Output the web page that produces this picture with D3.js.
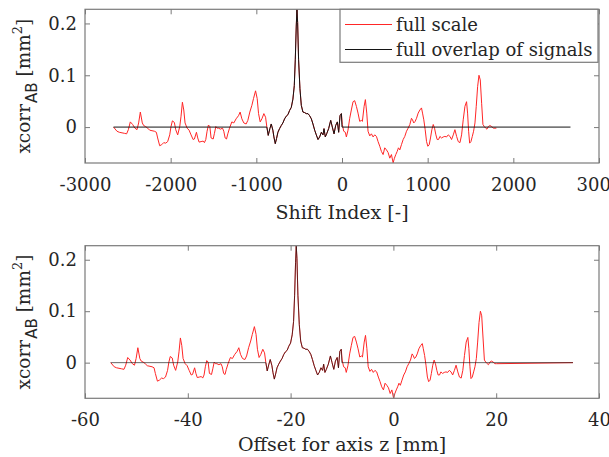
<!DOCTYPE html>
<html>
<head>
<meta charset="utf-8">
<script src="https://cdn.jsdelivr.net/npm/d3@7"></script>
<style>
  html, body { margin: 0; padding: 0; background: #fff; }
  svg { display: block; }
  text { font-family: "DejaVu Serif", serif; fill: #262626; }
</style>
</head>
<body>
<svg id="chart" width="609" height="457"></svg>
<script>
// Cross-correlation of signals A and B versus shift index (samples)
const shiftIndex = [
  -2667, -2627, -2600, -2541, -2514, -2494, -2471, -2444, -2417, -2393,
  -2374, -2354, -2331, -2315, -2292, -2269, -2245, -2190, -2167, -2152,
  -2128, -2105, -2081, -2058, -2035, -2011, -1996, -1980, -1957, -1941,
  -1918, -1894, -1879, -1863, -1847, -1832, -1808, -1785, -1762, -1738,
  -1723, -1699, -1684, -1668, -1645, -1621, -1606, -1590, -1575, -1559,
  -1543, -1528, -1504, -1489, -1473, -1458, -1442, -1419, -1395, -1380,
  -1364, -1348, -1333, -1313, -1286, -1263, -1236, -1208, -1189, -1169,
  -1146, -1119, -1099, -1076, -1052, -1033, -1009, -990, -974, -955,
  -935, -912, -892, -877, -861, -842, -826, -807, -795, -779,
  -764, -748, -729, -709, -690, -670, -651, -631, -612, -592,
  -573, -557, -545, -534, -526, -518, -507, -491, -475, -456,
  -436, -417, -397, -378, -358, -339, -319, -300, -280, -261,
  -241, -222, -210, -195, -179, -156, -132, -113, -93, -74,
  -54, -39, -23, -7, 4, 20, 39, 51, 70, 90,
  109, 129, 148, 168, 187, 207, 226, 238, 258, 273,
  289, 304, 324, 343, 363, 382, 402, 421, 441, 460,
  480, 499, 519, 538, 558, 577, 597, 612, 628, 644,
  659, 675, 694, 714, 733, 753, 772, 792, 811, 823,
  838, 854, 870, 889, 909, 928, 940, 955, 971, 987,
  1002, 1018, 1033, 1049, 1065, 1080, 1096, 1111, 1127, 1143,
  1162, 1182, 1201, 1221, 1240, 1260, 1279, 1299, 1318, 1338,
  1357, 1377, 1396, 1415, 1435, 1454, 1466, 1478, 1490, 1505,
  1521, 1536, 1552, 1567, 1583, 1599, 1614, 1630, 1645, 1661,
  1677, 1692, 1708, 1727, 1747, 1766, 1786, 1802
];

// xcorr_AB [mm^2], full-scale correlation
const xcorrFull = [
  0, -0.008, -0.010, -0.012, -0.013, -0.005, 0.010, 0.005, -0.002, -0.005,
  0.008, 0.029, 0.008, 0.003, 0.001, -0.002, -0.006, -0.008, -0.010, -0.021,
  -0.036, -0.034, -0.030, -0.031, -0.028, -0.015, 0.001, 0.012, 0.009, -0.005,
  -0.015, 0.001, 0.021, 0.048, 0.033, 0.008, -0.002, -0.006, -0.015, -0.024,
  -0.023, -0.010, -0.021, -0.029, -0.028, -0.027, -0.030, -0.024, -0.008, 0.004,
  0.001, -0.021, -0.023, -0.012, 0.001, -0.002, -0.002, -0.004, -0.002, -0.008,
  -0.021, -0.023, -0.013, -0.002, 0.010, 0.008, 0.016, 0.022, 0.029, 0.016,
  0.008, 0.006, 0.013, 0.029, 0.042, 0.055, 0.070, 0.055, 0.026, 0.010,
  0.016, 0.026, 0.019, 0, -0.016, -0.003, 0.006, -0.006, -0.019, -0.032,
  -0.022, -0.010, -0.003, 0.003, 0.008, 0.016, 0.021, 0.024, 0.032, 0.038,
  0.054, 0.080, 0.131, 0.195, 0.227, 0.202, 0.131, 0.074, 0.042, 0.029,
  0.028, 0.026, 0.026, 0.022, 0.016, 0.006, -0.006, -0.015, -0.024, -0.019,
  -0.010, -0.015, -0.003, -0.019, -0.013, -0.003, 0.013, 0, -0.013, 0.003,
  0.010, -0.010, 0.022, 0.026, 0.005, -0.008, -0.010, -0.019, -0.006, 0.017,
  0.033, 0.049, 0.051, 0.040, 0.027, 0.011, 0.013, 0.011, 0.040, 0.053,
  0.027, -0.008, -0.017, -0.013, -0.019, -0.015, -0.018, -0.028, -0.037, -0.047,
  -0.053, -0.040, -0.044, -0.049, -0.060, -0.053, -0.069, -0.060, -0.053, -0.047,
  -0.040, -0.044, -0.034, -0.024, -0.018, -0.008, -0.002, 0.005, 0.017, 0.014,
  0.008, 0.011, 0.017, 0.027, 0.033, 0.037, 0.027, 0.014, -0.005, -0.028,
  -0.037, -0.034, -0.021, -0.005, 0.005, -0.002, -0.015, -0.024, -0.024, -0.018,
  -0.021, -0.019, -0.018, -0.019, -0.015, -0.018, -0.024, -0.015, -0.005, -0.018,
  -0.028, -0.030, -0.015, 0.014, 0.040, 0.049, 0.027, -0.008, -0.031, -0.028,
  -0.018, -0.008, 0.008, 0.040, 0.078, 0.100, 0.091, 0.046, 0.005, 0.001,
  -0.002, -0.004, 0.001, 0.003, 0.001, -0.002, -0.002, -0.002
];

// Region where both signals fully overlap, and the span of the zero baseline
const overlapShift = [-877, 0];
const zeroSpanShift = [-2667, 2667];

// Conversion of shift index to offset along axis z [mm]
const mmPerIndex = 0.01686;
const mmAtZeroShift = -10.03;

// Axis ticks and labels
const shiftTicks = [-3000, -2000, -1000, 0, 1000, 2000, 3000];
const offsetTicks = [-60, -40, -20, 0, 20, 40];
const yTicks = [0, 0.1, 0.2];
const legendLabels = ["full scale", "full overlap of signals"];
const xLabels = ["Shift Index [-]", "Offset for axis z [mm]"];

const svg = d3.select("#chart");

const fullPts = shiftIndex.map((s, i) => ({ s, v: xcorrFull[i] }));
const overlapPts = [{ s: zeroSpanShift[0], v: 0 }, { s: overlapShift[0], v: 0 }]
  .concat(fullPts.filter(p => p.s > overlapShift[0] && p.s <= overlapShift[1]))
  .concat([{ s: overlapShift[1], v: 0 }, { s: zeroSpanShift[1], v: 0 }]);

const yExtent = d3.extent(xcorrFull);
const RED = "#ff2626";

function panel(opts) {
  const { top, bottom, left, right, xDomain, xTicks, toX, xLabel, labelGap, redTail, zeroColor } = opts;
  const g = svg.append("g");
  const x = d3.scaleLinear().domain(xDomain).range([left, right]);
  const y = d3.scaleLinear().domain([yExtent[0] - 0.0003, yExtent[1] + 0.0003]).range([bottom, top]);

  const clipId = "clip" + Math.round(top);
  svg.append("clipPath").attr("id", clipId)
    .append("rect").attr("x", left).attr("y", top).attr("width", right - left).attr("height", bottom - top);

  const line = d3.line().x(d => x(toX(d.s))).y(d => y(d.v));

  // Full-scale trace, then the full-overlap trace on top of it
  const red = redTail ? fullPts.concat([{ s: zeroSpanShift[1], v: 0 }]) : fullPts;
  g.append("path").datum(red)
    .attr("clip-path", `url(#${clipId})`)
    .attr("fill", "none").attr("stroke", RED).attr("stroke-width", 1)
    .attr("stroke-linejoin", "round").attr("d", line);
  g.append("path").datum(overlapPts)
    .attr("clip-path", `url(#${clipId})`)
    .attr("fill", "none").attr("stroke", zeroColor).attr("stroke-width", 1)
    .attr("stroke-linejoin", "round").attr("d", line);

  // Box
  g.append("rect").attr("x", left).attr("y", top)
    .attr("width", right - left).attr("height", bottom - top)
    .attr("fill", "none").attr("stroke", "#7a7a7a").attr("stroke-width", 1.2);

  const tickLen = 5;
  const axisStyle = sel => {
    sel.select(".domain").remove();
    sel.selectAll(".tick line").attr("stroke", "#7a7a7a");
    sel.selectAll(".tick text").attr("font-family", "DejaVu Serif").attr("font-size", 18).attr("fill", "#262626");
  };
  g.append("g").attr("transform", `translate(0,${bottom})`)
    .call(d3.axisBottom(x).tickValues(xTicks).tickFormat(d => String(d)).tickSizeInner(-tickLen).tickPadding(15))
    .call(axisStyle);
  g.append("g").attr("transform", `translate(0,${top})`)
    .call(d3.axisTop(x).tickValues(xTicks).tickFormat("").tickSizeInner(-tickLen))
    .call(axisStyle);
  g.append("g").attr("transform", `translate(${left},0)`)
    .call(d3.axisLeft(y).tickValues(yTicks).tickFormat(d => String(d)).tickSizeInner(-tickLen).tickPadding(8))
    .call(axisStyle);
  g.append("g").attr("transform", `translate(${right},0)`)
    .call(d3.axisRight(y).tickValues(yTicks).tickFormat("").tickSizeInner(-tickLen))
    .call(axisStyle);

  // X label
  g.append("text").attr("x", (left + right) / 2).attr("y", bottom + labelGap)
    .attr("text-anchor", "middle").attr("font-size", 19).text(xLabel);

  // Y label: xcorr_AB [mm^2]
  const yl = g.append("text")
    .attr("transform", `translate(30,${(top + bottom) / 2}) rotate(-90)`)
    .attr("text-anchor", "middle").attr("font-size", 18.5);
  yl.append("tspan").text("xcorr");
  yl.append("tspan").attr("dy", 7).attr("dx", 1).attr("font-family", "DejaVu Sans").attr("font-size", 15).text("AB");
  yl.append("tspan").attr("dy", -7).text(" [mm");
  yl.append("tspan").attr("dy", -8).attr("font-size", 13).text("2");
  yl.append("tspan").attr("dy", 8).text("]");
  return { x, y };
}

panel({
  top: 9.3, bottom: 163, left: 85, right: 599,
  xDomain: [-3000, 3000], xTicks: shiftTicks, toX: s => s,
  xLabel: xLabels[0], labelGap: 56, redTail: false, zeroColor: "#141414"
});
panel({
  top: 245.7, bottom: 398.3, left: 85, right: 599,
  xDomain: [-60, 40], xTicks: offsetTicks, toX: s => s * mmPerIndex + mmAtZeroShift,
  xLabel: xLabels[1], labelGap: 53, redTail: true, zeroColor: "rgba(20,20,20,0.65)"
});

// Legend
const lg = svg.append("g");
lg.append("rect").attr("x", 340).attr("y", 9.3).attr("width", 258).attr("height", 53)
  .attr("fill", "#fff").attr("stroke", "#7a7a7a").attr("stroke-width", 1.2);
const legendColors = [RED, "#141414"];
legendLabels.forEach((lab, i) => {
  const cy = 24.5 + i * 25;
  lg.append("line").attr("x1", 345).attr("x2", 392).attr("y1", cy).attr("y2", cy)
    .attr("stroke", legendColors[i]).attr("stroke-width", 1);
  lg.append("text").attr("x", 396).attr("y", cy + 6).attr("font-size", 18).text(lab);
});
</script>
</body>
</html>
